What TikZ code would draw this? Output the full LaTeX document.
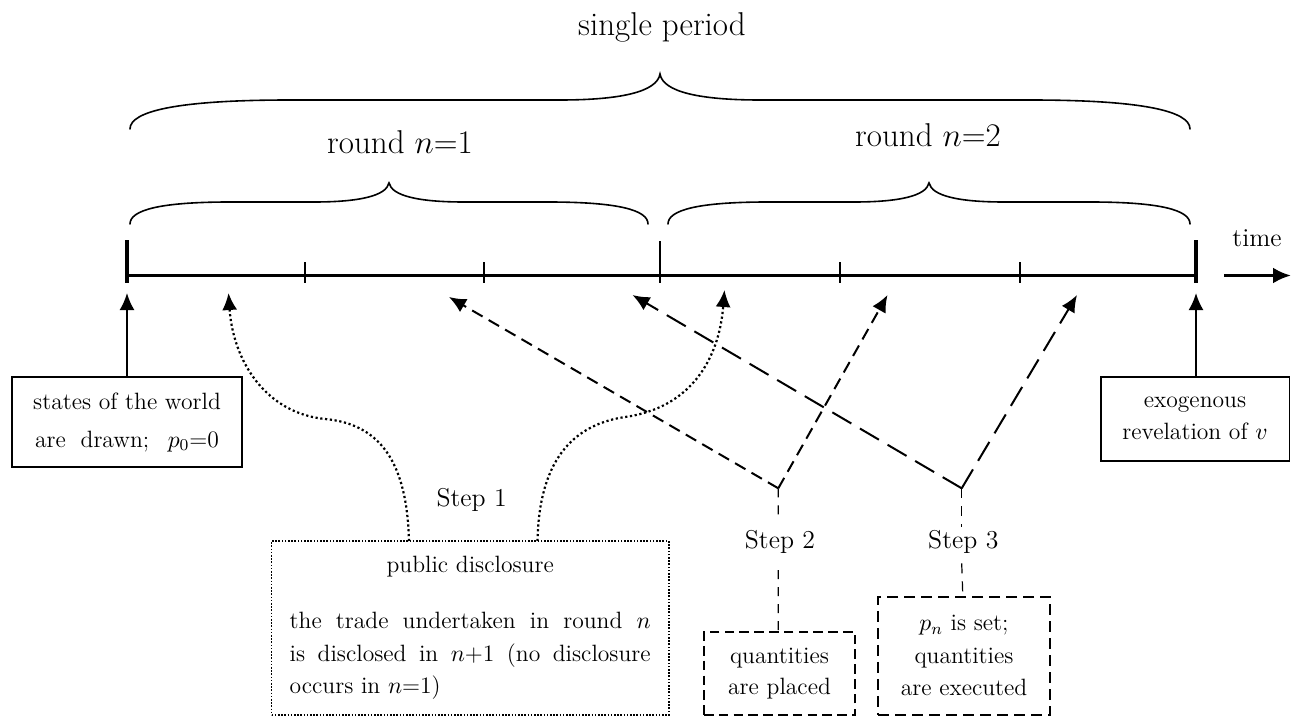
\documentclass[tikz,border=0pt]{standalone}
\usepackage{fix-cm}
\usepackage{fontspec}
\usetikzlibrary{arrows.meta}

\tikzset{
  boxfont/.style={font=\fontsize{11.8}{#1}\selectfont},
  labelfont/.style={font=\fontsize{12.9}{15}\selectfont},
  bigfont/.style={font=\fontsize{16.5}{20}\selectfont},
  axisline/.style={line width=1.6pt},
  endtick/.style={line width=1.6pt},
  midtick/.style={line width=1.2pt},
  smalltick/.style={line width=1pt},
  curly/.style={line width=0.8pt, line cap=round},
  headtip/.style={-{Latex[length=8.5pt,width=7.5pt]}},
  solidarrow/.style={headtip, line width=1.1pt},
  dotarrow/.style={headtip, line width=1.1pt, dash pattern=on 1.1pt off 1.3pt},
  shortdash/.style={headtip, line width=1pt, dash pattern=on 6pt off 3.5pt},
  longdash/.style={headtip, line width=1pt, dash pattern=on 11pt off 5pt},
  thindash/.style={line width=0.6pt, dash pattern=on 4.5pt off 4pt},
  solidbox/.style={draw, line width=0.8pt, align=center, inner sep=0pt},
  dotbox/.style={draw, line width=0.8pt, dash pattern=on 0.8pt off 0.8pt, inner sep=0pt},
  dashboxA/.style={draw, line width=1.1pt, dash pattern=on 4.8pt off 2.6pt, align=center, inner sep=0pt},
  dashboxB/.style={draw, line width=1.1pt, dash pattern=on 5.5pt off 3pt, align=center, inner sep=0pt},
}

\begin{document}
\begin{tikzpicture}[x=0.5pt,y=-0.5pt]
\useasboundingbox (0,0) rectangle (1291,717);

% time axis
\coordinate (ax0) at (127,275.5);
\coordinate (ax1) at (1196,275.5);
\draw[axisline] (ax0) -- (ax1);
\draw[endtick] (127,240) -- (127,283);
\draw[endtick] (1196,240) -- (1196,283);
\draw[midtick] (660,241) -- (660,283);
\foreach \x in {305,484,840,1020}
  \draw[smalltick] (\x,262) -- (\x,283);
\coordinate (tm0) at (1224,275.5);
\coordinate (tm1) at (1291,275.5);
\draw[axisline, -{Latex[length=9pt,width=8pt]}] (tm0) -- (tm1);
\node[labelfont, anchor=base] (timelbl) at (1257,246.5) {time};

% braces
\draw[curly] (130,129) .. controls (130,111) and (178,100) .. (290,100)
  -- (560,100) .. controls (620,100) and (657,92) .. (660,74)
  .. controls (663,92) and (700,100) .. (760,100)
  -- (1030,100) .. controls (1142,100) and (1190,111) .. (1190,129);
\draw[curly] (130,224) .. controls (130,210) and (160,202) .. (230,202)
  -- (314,202) .. controls (359,202) and (386,196) .. (389,183)
  .. controls (392,196) and (419,202) .. (464,202)
  -- (548,202) .. controls (618,202) and (648,210) .. (648,224);
\draw[curly] (668,224) .. controls (668,210) and (698,202) .. (768,202)
  -- (854,202) .. controls (899,202) and (926,196) .. (929,183)
  .. controls (932,196) and (959,202) .. (1004,202)
  -- (1090,202) .. controls (1160,202) and (1190,210) .. (1190,224);
\node[bigfont, anchor=base] (period) at (662,36) {single period};
\node[bigfont, anchor=base] (round1) at (400,154) {round $n$=1};
\node[bigfont, anchor=base] (round2) at (928,147) {round $n$=2};

% boxes at the ends of the axis
\node[solidbox, boxfont=19, minimum width=115pt, minimum height=45pt] (world) at (127,422)
  {states of the world\\\makebox[92pt][s]{are drawn; $p_0$=0}};
\node[solidbox, boxfont=16, minimum width=94.3pt, minimum height=42pt] (exo) at (1195,418.7)
  {exogenous\\revelation of $v$};
\coordinate (hitL) at (127,293);
\coordinate (hitR) at (1196,293);
\draw[solidarrow] (world.north) -- (hitL);
\draw[solidarrow] ([xshift=0.5pt]exo.north) -- (hitR);

% step 1: public disclosure
\node[dotbox, boxfont=16.25, minimum width=198.6pt, minimum height=87pt,
      text width=180.5pt, align=justify] (pub) at (470.2,628)
  {\setlength\parindent{0pt}{\centering public disclosure\par}\vspace{11.9pt}%
   the trade undertaken in round $n$\linebreak
   is disclosed in $n$+1 (no disclosure\linebreak
   occurs in $n$=1)};
\node[labelfont] (s1) at (471.6,500) {Step 1};
\coordinate (p1) at (409,541);
\coordinate (p2) at (537.5,541);
\coordinate (d1) at (228.5,293);
\coordinate (d2) at (724.5,290);
\draw[dotarrow] (p1) .. controls (407,462) and (380,424) .. (325,419)
  .. controls (265,413) and (233,360) .. (d1);
\draw[dotarrow] (p2) .. controls (539,464) and (570,425) .. (625,417)
  .. controls (690,408) and (719,360) .. (d2);

% step 2: quantities are placed
\node[dashboxA, boxfont=15.7, minimum width=75.5pt, minimum height=41.7pt] (placed) at (779.5,673.4)
  {quantities\\are placed};
\node[labelfont] (s2) at (780,541.7) {Step 2};
\coordinate (v2) at (778.3,488.3);
\coordinate (e2a) at (449,297);
\coordinate (e2b) at (887.5,295);
\draw[shortdash] (v2) -- (e2a);
\draw[shortdash] (v2) -- (e2b);
\draw[thindash] (v2) -- ([xshift=-0.9pt,yshift=13.3pt]s2.center);
\draw[thindash] ([xshift=-0.9pt,yshift=-14.2pt]s2.center) -- ([xshift=-0.6pt]placed.north);

% step 3: price set, quantities executed
\node[dashboxB, boxfont=16.25, minimum width=86pt, minimum height=59pt] (exec) at (964,655.8)
  {$p_n$ is set;\\quantities\\are executed};
\node[labelfont] (s3) at (963.3,541.7) {Step 3};
\coordinate (v3) at (961.7,488.3);
\coordinate (e3a) at (632.5,295);
\coordinate (e3b) at (1077,295);
\draw[longdash] (v3) -- (e3a);
\draw[longdash] (v3) -- (e3b);
\draw[thindash, dash pattern=on 5pt off 4pt] (v3) -- ([xshift=-0.8pt,yshift=7.5pt]s3.center);
\draw[thindash, dash pattern=on 5pt off 4pt] ([xshift=-0.8pt,yshift=-10.8pt]s3.center) -- ([xshift=-0.6pt]exec.north);
\end{tikzpicture}
\end{document}
